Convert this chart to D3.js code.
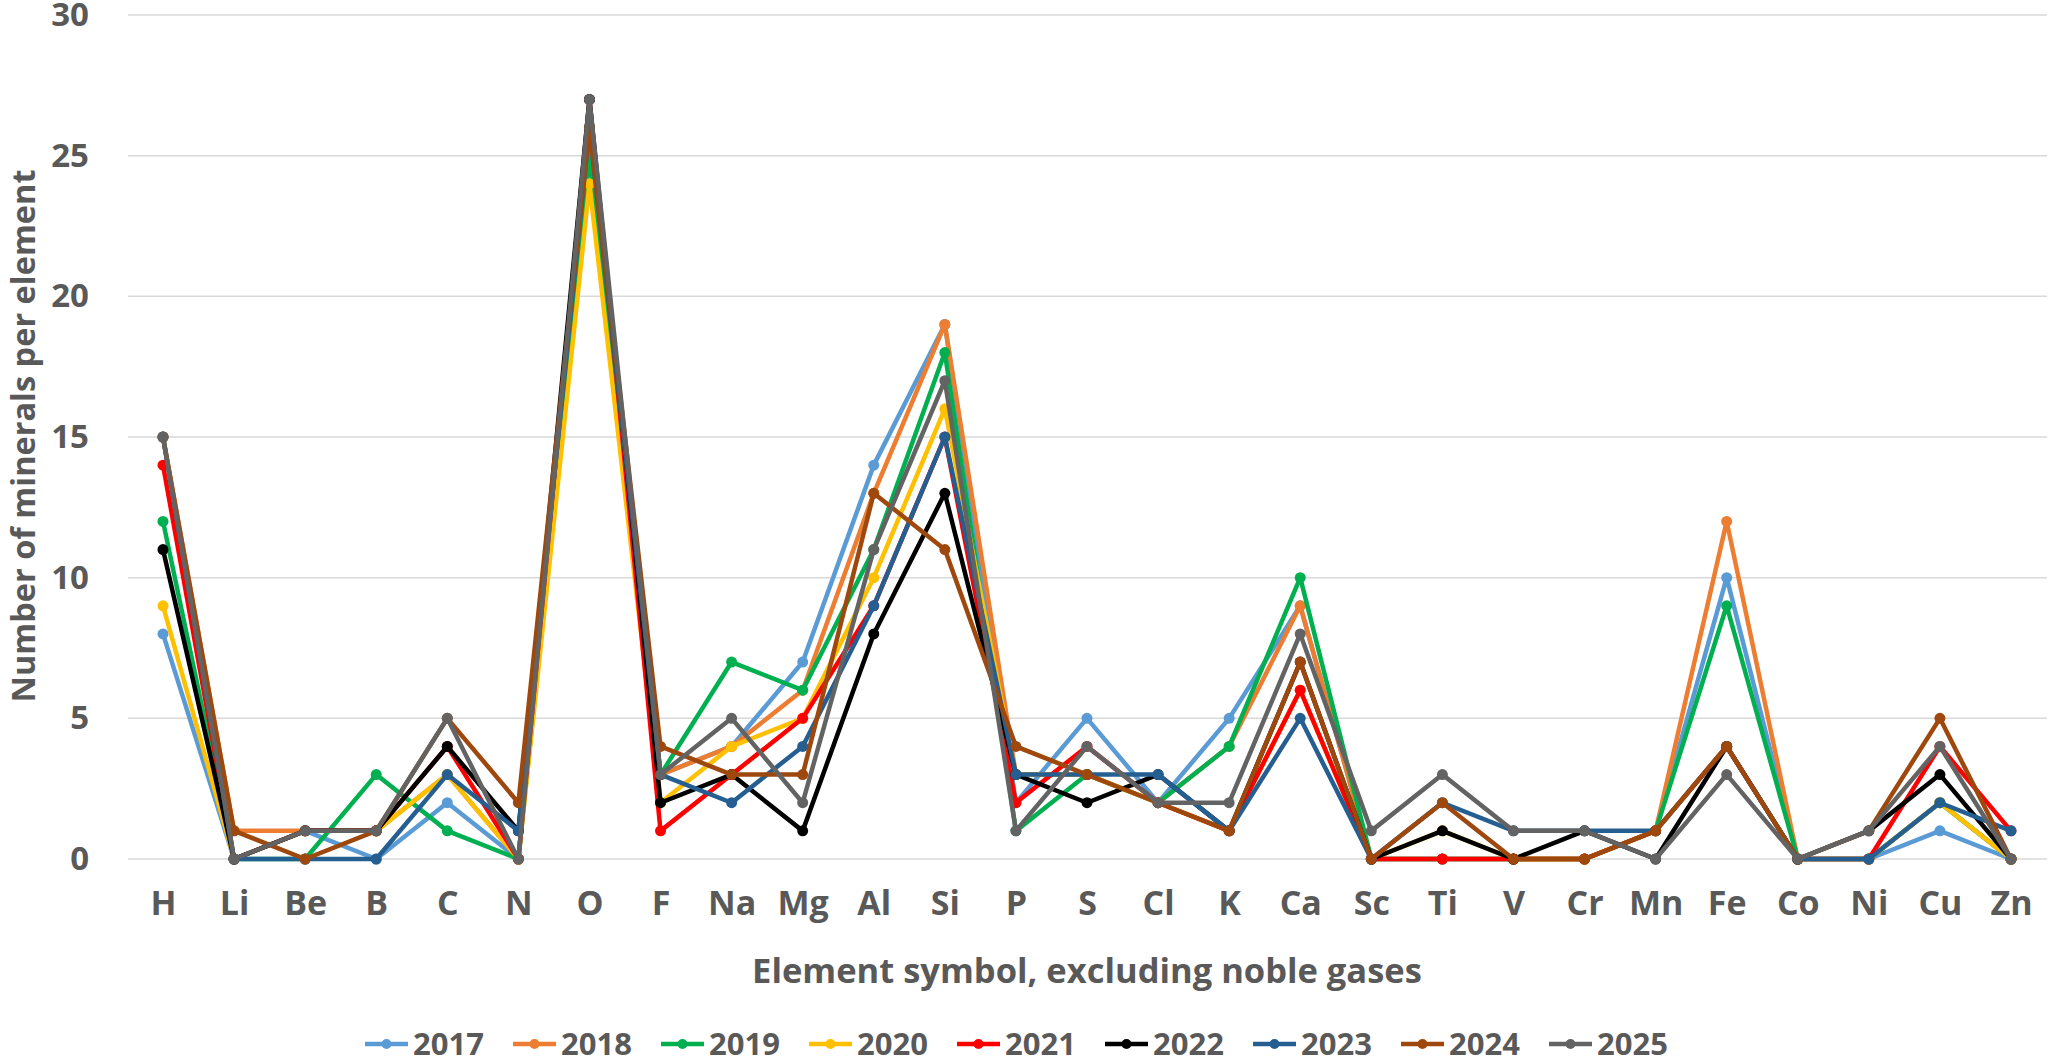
<!DOCTYPE html>
<html>
<head>
<meta charset="utf-8">
<script src="https://cdn.jsdelivr.net/npm/d3@7"></script>
<style>
  html, body { margin: 0; padding: 0; background: #fff; }
  svg text { font-family: "Open Sans", "Noto Sans", sans-serif; font-weight: 700; fill: #595959; }
</style>
</head>
<body>
<div id="chart"></div>
<script>
// element symbols on the x axis
const elements = ["H", "Li", "Be", "B", "C", "N", "O", "F", "Na", "Mg", "Al", "Si", "P", "S", "Cl", "K", "Ca", "Sc", "Ti", "V", "Cr", "Mn", "Fe", "Co", "Ni", "Cu", "Zn"];

// number of minerals per element, one array per year
const y2017 = [8, 0, 1, 0, 2, 0, 26, 3, 4, 7, 14, 19, 2, 5, 2, 5, 9, 0, 0, 0, 0, 1, 10, 0, 0, 1, 0];
const y2018 = [15, 1, 1, 1, 3, 0, 26, 3, 4, 6, 13, 19, 3, 3, 2, 4, 9, 0, 0, 0, 0, 1, 12, 0, 0, 2, 0];
const y2019 = [12, 0, 0, 3, 1, 0, 25, 3, 7, 6, 11, 18, 1, 3, 2, 4, 10, 0, 0, 0, 0, 1, 9, 0, 0, 2, 0];
const y2020 = [9, 0, 1, 1, 3, 0, 24, 2, 4, 5, 10, 16, 3, 3, 2, 1, 6, 0, 1, 0, 0, 1, 4, 0, 0, 2, 0];
const y2021 = [14, 0, 1, 1, 4, 0, 27, 1, 3, 5, 9, 15, 2, 4, 2, 1, 6, 0, 0, 0, 0, 1, 4, 0, 0, 4, 1];
const y2022 = [11, 0, 1, 1, 4, 1, 27, 2, 3, 1, 8, 13, 3, 2, 3, 1, 7, 0, 1, 0, 1, 0, 4, 0, 1, 3, 0];
const y2023 = [15, 0, 0, 0, 3, 1, 26, 3, 2, 4, 9, 15, 3, 3, 3, 1, 5, 0, 2, 1, 1, 1, 4, 0, 0, 2, 1];
const y2024 = [15, 1, 0, 1, 5, 2, 26, 4, 3, 3, 13, 11, 4, 3, 2, 1, 7, 0, 2, 0, 0, 1, 4, 0, 1, 5, 0];
const y2025 = [15, 0, 1, 1, 5, 0, 27, 3, 5, 2, 11, 17, 1, 4, 2, 2, 8, 1, 3, 1, 1, 0, 3, 0, 1, 4, 0];

const years = ["2017", "2018", "2019", "2020", "2021", "2022", "2023", "2024", "2025"];
const yTicks = [0, 5, 10, 15, 20, 25, 30];

const colors = ["#5B9BD5", "#ED7D31", "#00B050", "#FFC000", "#FF0000", "#000000", "#255E91", "#9E480E", "#636363"];
const series = [y2017, y2018, y2019, y2020, y2021, y2022, y2023, y2024, y2025]
  .map((vals, i) => ({ year: years[i], color: colors[i], values: vals }));

const W = 2050, H = 1063;
const svg = d3.select("#chart").append("svg")
  .attr("width", W)
  .attr("height", H);

const x = d3.scalePoint().domain(elements).range([163, 2011]);
const y = d3.scaleLinear().domain([0, 30]).range([859, 15]);

// gridlines
svg.append("g")
  .selectAll("line")
  .data(yTicks)
  .enter()
  .append("line")
  .attr("x1", 128)
  .attr("x2", 2047)
  .attr("y1", d => y(d))
  .attr("y2", d => y(d))
  .attr("stroke", "#d9d9d9")
  .attr("stroke-width", 1.5);

// y axis labels
const yAxis = d3.axisLeft(y).tickValues(yTicks).tickSize(0).tickPadding(0);
svg.append("g")
  .attr("transform", "translate(89,0)")
  .call(yAxis)
  .call(g => g.select(".domain").remove())
  .call(g => g.selectAll("text")
    .attr("font-size", 33)
    .attr("font-family", null)
    .attr("fill", "#595959"));

// x axis labels
const xAxis = d3.axisBottom(x).tickSize(0).tickPadding(0);
svg.append("g")
  .attr("transform", "translate(0,891)")
  .call(xAxis)
  .call(g => g.select(".domain").remove())
  .call(g => g.selectAll("text")
    .attr("font-size", 34)
    .attr("font-family", null)
    .attr("fill", "#595959"));

// axis titles
svg.append("text")
  .attr("x", 1087)
  .attr("y", 983)
  .attr("text-anchor", "middle")
  .attr("font-size", 34.5)
  .text("Element symbol, excluding noble gases");

svg.append("text")
  .attr("transform", "translate(35,436) rotate(-90)")
  .attr("text-anchor", "middle")
  .attr("font-size", 32.5)
  .text("Number of minerals per element");

// lines and markers
const line = d3.line()
  .x((d, i) => x(elements[i]))
  .y(d => y(d));

const sg = svg.append("g")
  .selectAll("g")
  .data(series)
  .enter()
  .append("g");

sg.append("path")
  .attr("d", d => line(d.values))
  .attr("fill", "none")
  .attr("stroke", d => d.color)
  .attr("stroke-width", 4.5)
  .attr("stroke-linejoin", "round");

sg.selectAll("circle")
  .data(d => d.values.map((v, i) => ({ v, i, color: d.color })))
  .enter()
  .append("circle")
  .attr("cx", d => x(elements[d.i]))
  .attr("cy", d => y(d.v))
  .attr("r", 5.5)
  .attr("fill", d => d.color);

// legend
const leg = svg.append("g")
  .selectAll("g")
  .data(series)
  .enter()
  .append("g")
  .attr("transform", (d, i) => `translate(${365 + i * 148},1044)`);

leg.append("line")
  .attr("x1", 0)
  .attr("x2", 43)
  .attr("stroke", d => d.color)
  .attr("stroke-width", 4.5);

leg.append("circle")
  .attr("cx", 21.5)
  .attr("r", 5)
  .attr("fill", d => d.color);

leg.append("text")
  .attr("x", 48)
  .attr("y", 11)
  .attr("font-size", 31)
  .text(d => d.year);
</script>
</body>
</html>
